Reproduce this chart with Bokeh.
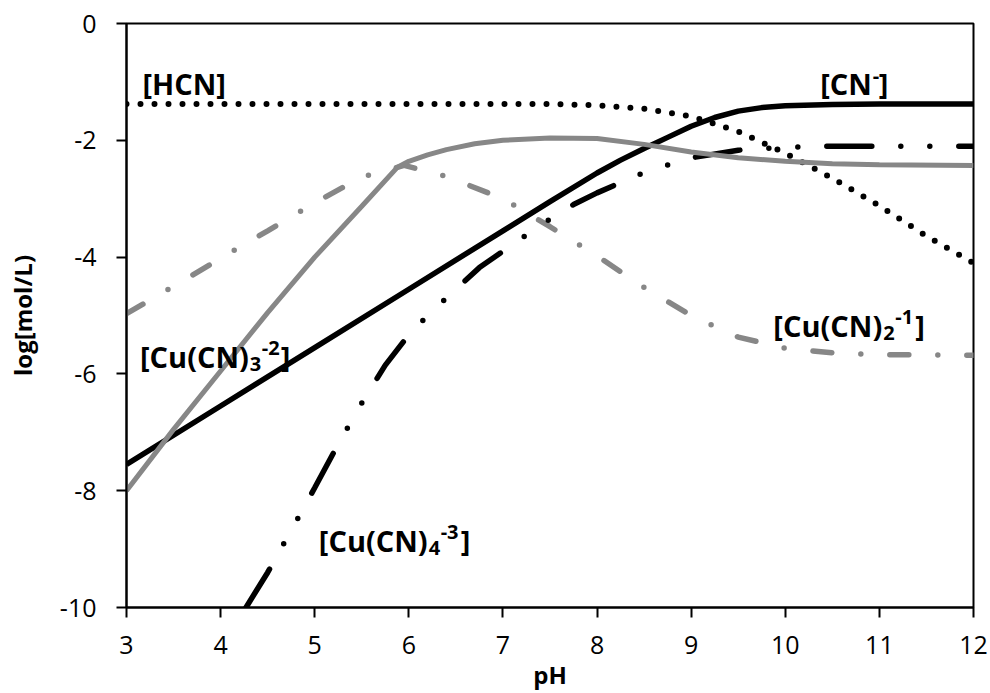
from bokeh.plotting import figure
from bokeh.models import Range1d, FixedTicker, Label, CustomJSTickFormatter
from bokeh.embed import file_html
from bokeh.resources import INLINE

# ---- data ----
ph_hcn = [3, 7.5, 8, 8.5, 9, 9.5, 10, 10.5, 11, 11.5, 12]
log_hcn = [-1.38, -1.38, -1.40, -1.46, -1.59, -1.85, -2.22, -2.65, -3.12, -3.64, -4.1]

ph_cn = [3, 4, 5, 6, 7, 7.5, 8, 8.25, 8.5, 8.75, 9, 9.25, 9.5, 9.75, 10, 10.5, 11, 12]
log_cn = [-7.55, -6.55, -5.55, -4.55, -3.55, -3.05, -2.56, -2.34, -2.14, -1.95, -1.76, -1.61,
          -1.5, -1.44, -1.41, -1.385, -1.38, -1.38]

ph_cu3 = [3, 3.5, 4, 4.5, 5, 5.5, 5.88, 6.0, 6.2, 6.4, 6.7, 7, 7.5, 8, 8.5, 9, 9.5, 10, 10.5, 11, 12]
log_cu3 = [-8.0, -6.95, -5.95, -4.95, -4.0, -3.13, -2.46, -2.36, -2.25, -2.16, -2.06, -2.0, -1.96,
           -1.97, -2.07, -2.2, -2.3, -2.36, -2.4, -2.42, -2.43]

ph_cu2 = [3, 3.5, 4, 4.5, 5, 5.5, 5.95, 6.4, 7, 7.5, 8, 8.5, 9, 9.5, 10, 10.5, 11, 12]
log_cu2 = [-4.97, -4.5, -4.02, -3.55, -3.07, -2.63, -2.43, -2.62, -3.0, -3.48, -3.98, -4.52,
           -5.0, -5.37, -5.56, -5.64, -5.67, -5.68]

ph_cu4 = [4.27, 4.5, 4.75, 5.0, 5.25, 5.5, 5.75, 6.0, 6.25, 6.5, 6.75, 7.0, 7.25, 7.5, 7.75,
          8.0, 8.5, 9.0, 9.5, 10, 10.5, 12]
log_cu4 = [-10.0, -9.4, -8.68, -7.95, -7.2, -6.5, -5.85, -5.33, -4.92, -4.55, -4.18, -3.9, -3.62,
           -3.35, -3.1, -2.9, -2.55, -2.3, -2.17, -2.12, -2.1, -2.1]

x_ticks = [3, 4, 5, 6, 7, 8, 9, 10, 11, 12]
y_ticks = [0, -2, -4, -6, -8, -10]

GRAY = "#878787"
FONT = "Open Sans"

p = figure(width=990, height=693, output_backend="svg", toolbar_location=None,
           x_range=Range1d(3, 12), y_range=Range1d(-10, 0),
           min_border_left=126, min_border_right=17, min_border_top=23, min_border_bottom=85)

p.grid.visible = False
p.background_fill_color = "white"
p.border_fill_color = "white"
p.outline_line_color = "black"
p.outline_line_width = 2

for ax in (p.xaxis[0], p.yaxis[0]):
    ax.axis_line_color = "black"
    ax.axis_line_width = 2
    ax.major_tick_line_color = "black"
    ax.major_tick_line_width = 2
    ax.major_tick_out = 10
    ax.major_tick_in = 0
    ax.minor_tick_line_color = None
    ax.major_label_text_font = FONT
    ax.major_label_text_font_size = "25px"
    ax.major_label_text_color = "black"
    ax.formatter = CustomJSTickFormatter(code="return tick.toFixed(0);")
    ax.axis_label_text_font = FONT
    ax.axis_label_text_font_style = "bold"
    ax.axis_label_text_font_size = "24px"
    ax.axis_label_text_color = "black"

p.xaxis[0].ticker = FixedTicker(ticks=x_ticks)
p.yaxis[0].ticker = FixedTicker(ticks=y_ticks)
p.xaxis[0].axis_label = "pH"
p.yaxis[0].axis_label = "log[mol/L)"
p.xaxis[0].major_label_standoff = 18
p.xaxis[0].major_label_text_line_height = 0.8
p.xaxis[0].axis_label_text_line_height = 0.8
p.xaxis[0].axis_label_standoff = 1
p.yaxis[0].major_label_standoff = 20
p.yaxis[0].axis_label_standoff = 18

# ---- curves ----
p.line(ph_cu2, log_cu2, line_color=GRAY, line_width=5.5, line_dash="19 29 0 29", line_cap="round")
p.line(ph_cn, log_cn, line_color="black", line_width=5.5)
p.line(ph_cu4, log_cu4, line_color="black", line_width=5.5, line_dash="45 29 0 29 0 29", line_cap="round")
p.line(ph_hcn, log_hcn, line_color="black", line_width=6, line_dash="0 14", line_cap="round")
p.line(ph_cu3, log_cu3, line_color=GRAY, line_width=5)

# ---- species labels ----
RAISE = 7

def lab(x, y, text, size=29, align="left", dx=0, dy=0):
    p.add_layout(Label(x=x, y=y, text=text, x_offset=dx, y_offset=dy + RAISE,
                       text_font=FONT, text_font_style="bold", text_font_size=f"{size}px",
                       text_align=align, text_baseline="alphabetic", text_color="black"))

def species(x, y, main, sub, sup, sub_w=12, sup_w=19):
    lab(x, y, main, align="right")
    off = 1
    if sub:
        lab(x, y, sub, size=20, dx=off, dy=-8)
        off += sub_w
    lab(x, y, sup, size=20, dx=off, dy=8)
    off += sup_w
    lab(x, y, "]", dx=off)

lab(3.17, -1.15, "[HCN]")
species(10.92, -1.15, "[CN", None, "-", sup_w=6)
species(4.30, -5.82, "[Cu(CN)", "3", "-2")
species(6.20, -8.97, "[Cu(CN)", "4", "-3", sup_w=20)
species(11.03, -5.29, "[Cu(CN)", "2", "-1", sup_w=20)

open("out.html", "w").write(file_html(p, INLINE))
